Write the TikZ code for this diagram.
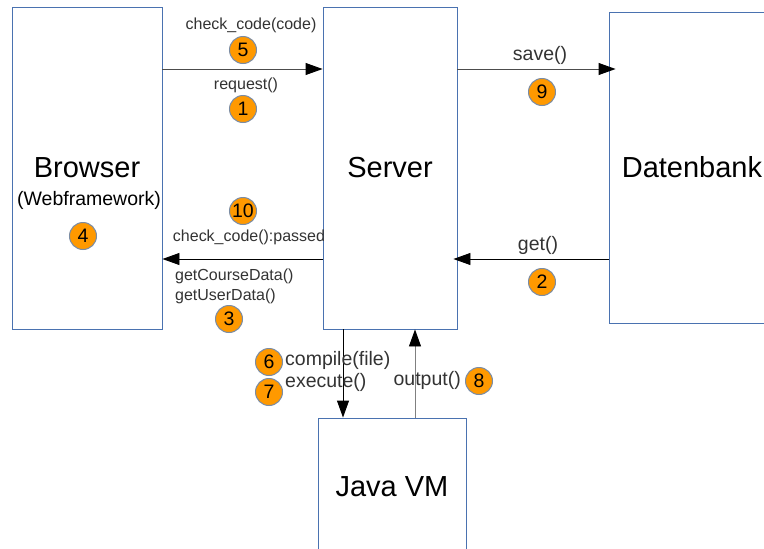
\documentclass[tikz,border=0pt]{standalone}
\usepackage{fontspec}
\setmainfont{Liberation Sans}
\usetikzlibrary{arrows.meta}

\definecolor{boxblue}{HTML}{4A72B0}
\definecolor{numorange}{HTML}{FF9900}
\definecolor{numrim}{HTML}{7A8CA5}
\definecolor{labelgray}{HTML}{333333}

\tikzset{
  box/.style={draw=boxblue, line width=0.9pt, inner sep=0pt, font=\fontsize{29}{30}\selectfont},
  num/.style={circle, draw=numrim, fill=numorange, line width=1pt, minimum size=27pt,
    inner sep=0pt, font=\fontsize{19.5}{19.5}\selectfont},
  call/.style={font=\fontsize{16}{17}\selectfont, text=labelgray, inner sep=0pt},
  bigcall/.style={font=\fontsize{19.5}{20}\selectfont, text=labelgray, inner sep=0pt},
  flow/.style={-{Triangle[length=17pt,width=12pt,color=black]}, line width=0.9pt},
}

\begin{document}
\begin{tikzpicture}[x=1pt,y=-1pt]
    \clip (0,0) rectangle (764,549);
    \fill[white] (0,0) rectangle (764,549);

    % the four components
    \node[box, minimum width=150pt, minimum height=322pt] (browser) at (87,168) {Browser};
    \node[box, minimum width=134pt, minimum height=322pt] (server) at (390,168) {Server};
    \node[box, minimum width=166pt, minimum height=311pt] (db) at (692,167.5) {Datenbank};
    \node[box, minimum width=148pt, minimum height=138pt] (jvm) at (392,487) {Java VM};
    \node[bigcall, text=black] (webfw) at (89,200) {(Webframework)};

    % rows and columns of the calls
    \coordinate (rowtop) at (0,69);
    \coordinate (rowlow) at (0,259);
    \coordinate (colin) at (343,0);
    \coordinate (colout) at (415,0);

    \draw[flow, draw=gray!60!black] (browser.east |- rowtop) -- (server.west |- rowtop);
    \draw[flow] (server.west |- rowlow) -- (browser.east |- rowlow);
    \draw[flow, draw=gray!60!black] (server.east |- rowtop) -- ([xshift=7pt]db.west |- rowtop);
    \draw[flow] (db.west |- rowlow) -- ([xshift=-4pt]server.east |- rowlow);
    \draw[flow] (server.south -| colin) -- (jvm.north -| colin);
    \draw[flow, draw=gray] (jvm.north -| colout) -- (server.south -| colout);

    % browser <-> server
    \node[call] (checkcode) at (251,25) {check\_code(code)};
    \node[num] (n5) at (243,50) {5};
    \node[call] (request) at (246,85) {request()};
    \node[num] (n1) at (243,109) {1};
    \node[num] (n10) at (243,211) {10};
    \node[call] (passed) at (249,237) {check\_code():passed};
    \node[call, anchor=west] (coursedata) at (175,276) {getCourseData()};
    \node[call, anchor=west] (userdata) at (175,296) {getUserData()};
    \node[num] (n3) at (229,319) {3};
    \node[num] (n4) at (83,236) {4};

    % server <-> database
    \node[bigcall] (save) at (540,55) {save()};
    \node[num] (n9) at (542,92) {9};
    \node[bigcall] (get) at (538,245) {get()};
    \node[num] (n2) at (542,282) {2};

    % server <-> java vm
    \node[num] (n6) at (269,362) {6};
    \node[bigcall, anchor=west] (compile) at (285,360) {compile(file)};
    \node[num] (n7) at (269,392) {7};
    \node[bigcall, anchor=west] (execute) at (285,382) {execute()};
    \node[bigcall, anchor=east] (output) at (461,380) {output()};
    \node[num] (n8) at (479,381) {8};
\end{tikzpicture}
\end{document}
